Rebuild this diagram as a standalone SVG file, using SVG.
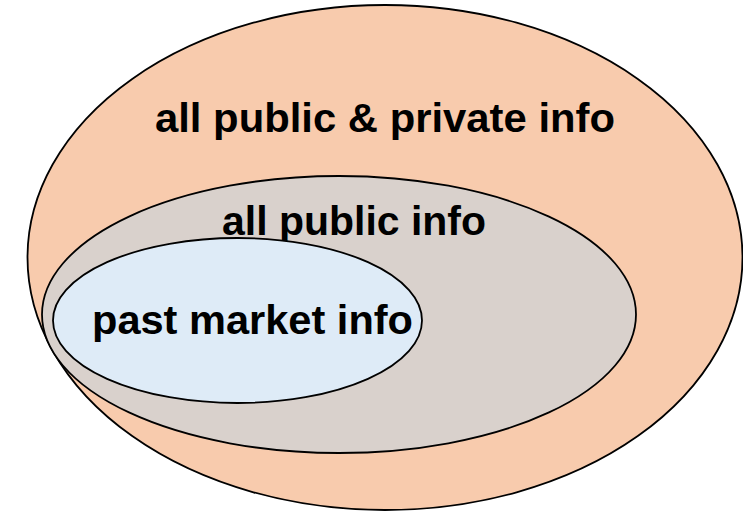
<svg xmlns="http://www.w3.org/2000/svg" width="743" height="515" viewBox="0 0 743 515">
<style>
.e{stroke:#000;stroke-width:1.8}
.t{font-family:"Liberation Sans",Arial,sans-serif;font-weight:bold;font-size:41px;fill:#000}
</style>
<rect width="743" height="515" fill="#fff"/>
<g id="outer"><ellipse class="e" cx="385" cy="257.5" rx="357.5" ry="252.5" fill="#F8CBAD"/>
<text class="t" x="155" y="132" textLength="460" lengthAdjust="spacingAndGlyphs">all public &amp; private info</text></g>
<g id="middle"><ellipse class="e" cx="339" cy="314.5" rx="297" ry="138.5" fill="#D9D1CC"/>
<text class="t" x="222" y="235" textLength="264" lengthAdjust="spacingAndGlyphs">all public info</text></g>
<g id="inner"><ellipse class="e" cx="237.5" cy="320.5" rx="184.5" ry="82.5" fill="#DEEBF7"/>
<text class="t" x="92" y="334" textLength="321" lengthAdjust="spacingAndGlyphs">past market info</text></g>
<g id="connectors"/>
</svg>
